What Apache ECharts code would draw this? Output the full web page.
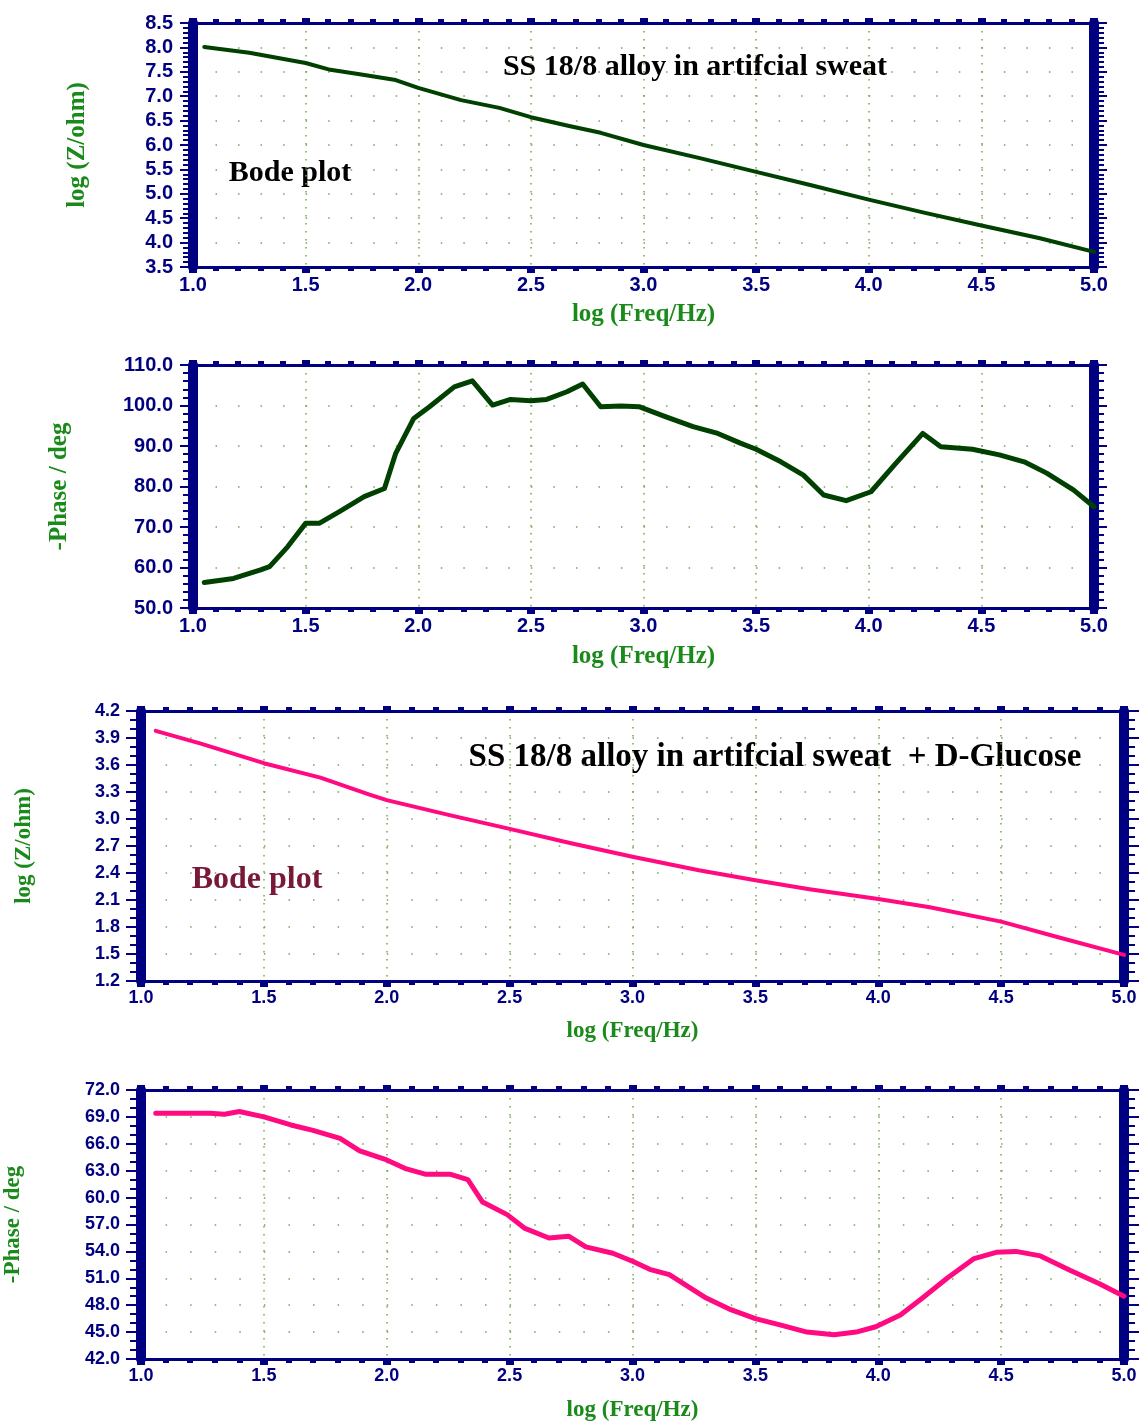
<!DOCTYPE html>
<html><head><meta charset="utf-8">
<script src="https://cdn.jsdelivr.net/npm/echarts@6/dist/echarts.min.js"></script>
<style>html,body{margin:0;padding:0;background:#fff}#c{width:1140px;height:1423px}</style>
</head><body><div id="c"></div>
<script>
// ---- data ----
const freqTicks = [1.0, 1.5, 2.0, 2.5, 3.0, 3.5, 4.0, 4.5, 5.0];

const zFreq1 = [1.05,1.25,1.5,1.61,1.74,1.9,2.0,2.19,2.36,2.5,2.67,2.81,3.0,3.25,3.5,3.74,4.0,4.25,4.49,4.76,5.0];
const zVal1  = [8.01,7.89,7.68,7.54,7.45,7.33,7.17,6.92,6.76,6.57,6.39,6.25,6.0,5.73,5.45,5.18,4.88,4.61,4.36,4.09,3.81];

const phFreq1 = [1.05,1.18,1.3,1.34,1.42,1.5,1.56,1.65,1.76,1.85,1.9,1.98,2.05,2.16,2.24,2.33,2.41,2.5,2.57,2.66,2.73,2.81,2.9,2.98,3.1,3.22,3.33,3.43,3.5,3.61,3.71,3.8,3.9,4.01,4.12,4.24,4.32,4.46,4.58,4.69,4.79,4.91,5.0];
const phVal1  = [56.3,57.3,59.4,60.2,65.1,70.9,70.9,73.8,77.5,79.5,88.2,96.8,99.7,104.6,106.1,100.1,101.5,101.2,101.5,103.4,105.3,99.7,99.9,99.7,97.2,94.8,93.1,90.7,89.2,86.1,82.8,77.9,76.5,78.7,85.7,93.1,89.8,89.2,87.8,86.1,83.3,79.1,75.0];

const zFreq2 = [1.06,1.24,1.5,1.73,1.93,2.0,2.26,2.5,2.75,3.0,3.27,3.5,3.72,4.0,4.21,4.5,4.74,5.0];
const zVal2  = [3.98,3.84,3.62,3.46,3.27,3.21,3.04,2.89,2.73,2.58,2.43,2.32,2.22,2.11,2.02,1.86,1.68,1.49];

const phFreq2 = [1.06,1.28,1.34,1.4,1.5,1.61,1.7,1.81,1.89,2.0,2.08,2.16,2.26,2.33,2.39,2.49,2.56,2.66,2.74,2.81,2.92,3.0,3.07,3.15,3.3,3.4,3.5,3.6,3.71,3.82,3.91,3.99,4.09,4.18,4.28,4.39,4.48,4.56,4.66,4.78,4.9,5.0];
const phVal2  = [69.4,69.4,69.3,69.6,69.0,68.1,67.5,66.6,65.2,64.2,63.2,62.6,62.6,62.0,59.5,58.1,56.6,55.5,55.7,54.5,53.8,52.9,52.0,51.4,48.8,47.5,46.5,45.8,45.0,44.7,45.0,45.6,46.9,48.8,51.0,53.2,53.9,54.0,53.5,51.9,50.4,49.0];

const xName = 'log (Freq/Hz)';
const yNames = ['log (Z/ohm)', '-Phase / deg', 'log (Z/ohm)', '-Phase / deg'];
const title1 = 'SS 18/8 alloy in artifcial sweat';
const title2 = 'SS 18/8 alloy in artifcial sweat  + D-Glucose';
const bodeLabel = 'Bode plot';

// ---- styling ----
const NAVY = '#000080';
const DOT = '#74a64a';
const NAMEG = '#1a8a1a';
const SANS = '"Liberation Sans", Arial, sans-serif';
const SERIF = '"Liberation Serif", "Times New Roman", serif';

const panels = [
  {grid:{left:193,top:23,width:901,height:244}, ymin:3.5, ymax:8.5, yint:0.5, yMinor:5,
   xs:zFreq1, ys:zVal1, color:'#004000', lw:4, tickFont:20, hGap:22.525,
   yGap:103, xGap:35, nameFont:25, barW:10, yTickLen:13, yMinorLen:10, yLabMargin:20},
  {grid:{left:193,top:365,width:901,height:243}, ymin:50, ymax:110, yint:10, yMinor:5,
   xs:phFreq1, ys:phVal1, color:'#004000', lw:5, tickFont:20, hGap:22.525,
   yGap:121, xGap:36, nameFont:25, barW:10, yTickLen:13, yMinorLen:10, yLabMargin:20},
  {grid:{left:141,top:711,width:983,height:270}, ymin:1.2, ymax:4.2, yint:0.3, yMinor:3,
   xs:zFreq2, ys:zVal2, color:'#ff0a80', lw:4, tickFont:18, hGap:24.575,
   yGap:105, xGap:39, nameFont:23, barW:10, yTickLen:15, yMinorLen:11, yLabMargin:21},
  {grid:{left:141,top:1090,width:983,height:269}, ymin:42, ymax:72, yint:3, yMinor:3,
   xs:phFreq2, ys:phVal2, color:'#ff0a80', lw:5, tickFont:18, hGap:24.575,
   yGap:116, xGap:40, nameFont:23, barW:10, yTickLen:15, yMinorLen:11, yLabMargin:21}
];

const grids = [], xAxes = [], yAxes = [], series = [];
panels.forEach((p, i) => {
  grids.push(Object.assign({containLabel:false, outerBoundsMode:'none'}, p.grid));
  const lab = {color:NAVY, fontWeight:'bold', fontFamily:SANS, fontSize:p.tickFont};
  // bottom x axis
  xAxes.push({
    type:'value', gridIndex:i, position:'bottom', min:freqTicks[0], max:freqTicks[freqTicks.length-1], interval:0.5,
    axisLine:{show:true, onZero:false, lineStyle:{color:NAVY, width:3}},
    axisTick:{show:true, inside:false, length:6, lineStyle:{color:NAVY, width:8}},
    minorTick:{show:true, splitNumber:5, length:4, lineStyle:{color:NAVY, width:6}},
    axisLabel:Object.assign({margin:8, showMinLabel:true, showMaxLabel:true, formatter:v=>v.toFixed(1)}, lab),
    splitLine:{show:true, lineStyle:{color:DOT, width:1.5, type:[1.5,6.5]}},
    name:xName, nameLocation:'middle', nameGap:p.xGap,
    nameTextStyle:{color:NAMEG, fontWeight:'bold', fontFamily:SERIF, fontSize:p.nameFont}
  });
  // top x axis (frame)
  xAxes.push({
    type:'value', gridIndex:i, position:'top', min:1, max:5, interval:0.5,
    axisLine:{show:true, onZero:false, lineStyle:{color:NAVY, width:3}},
    axisTick:{show:true, inside:false, length:5, lineStyle:{color:NAVY, width:8}},
    minorTick:{show:true, splitNumber:5, length:4, lineStyle:{color:NAVY, width:6}},
    axisLabel:{show:false}, splitLine:{show:false}
  });
  // left y axis
  yAxes.push({
    type:'value', gridIndex:i, position:'left', min:p.ymin, max:p.ymax, interval:p.yint,
    axisLine:{show:true, onZero:false, lineStyle:{color:NAVY, width:p.barW}},
    axisTick:{show:true, inside:false, length:p.yTickLen, lineStyle:{color:NAVY, width:2}},
    minorTick:{show:true, splitNumber:p.yMinor, length:p.yMinorLen, lineStyle:{color:NAVY, width:2}},
    axisLabel:Object.assign({margin:p.yLabMargin, showMinLabel:true, showMaxLabel:true, formatter:v=>v.toFixed(1)}, lab),
    splitLine:{show:true, lineStyle:{color:DOT, width:1.5, type:[1.5, p.hGap-1.5]}},
    name:yNames[i], nameLocation:'middle', nameGap:p.yGap, nameRotate:90,
    nameTextStyle:{color:NAMEG, fontWeight:'bold', fontFamily:SERIF, fontSize:p.nameFont}
  });
  // right y axis (frame)
  yAxes.push({
    type:'value', gridIndex:i, position:'right', min:p.ymin, max:p.ymax, interval:p.yint,
    axisLine:{show:true, onZero:false, lineStyle:{color:NAVY, width:p.barW}},
    axisTick:{show:true, inside:false, length:p.yTickLen, lineStyle:{color:NAVY, width:2}},
    minorTick:{show:true, splitNumber:p.yMinor, length:p.yMinorLen, lineStyle:{color:NAVY, width:2}},
    axisLabel:{show:false}, splitLine:{show:false}
  });
  series.push({
    type:'line', xAxisIndex:i*2, yAxisIndex:i*2, showSymbol:false, silent:true,
    data:p.xs.map((x, k) => [x, p.ys[k]]),
    lineStyle:{color:p.color, width:p.lw, cap:'round', join:'round'},
    z:1
  });
});

const chart = echarts.init(document.getElementById('c'), null, {renderer:'canvas'});
chart.setOption({
  backgroundColor:'#ffffff',
  animation:false,
  grid:grids, xAxis:xAxes, yAxis:yAxes, series:series,
  graphic:[
    {type:'text', x:695, y:67, style:{text:title1, textAlign:'center', textVerticalAlign:'middle', font:'bold 30px "Liberation Serif"', fill:'#000'}},
    {type:'text', x:290, y:173, style:{text:bodeLabel, textAlign:'center', textVerticalAlign:'middle', font:'bold 30px "Liberation Serif"', fill:'#000'}},
    {type:'text', x:775, y:757, style:{text:title2, textAlign:'center', textVerticalAlign:'middle', font:'bold 33px "Liberation Serif"', fill:'#000'}},
    {type:'text', x:257, y:880, style:{text:bodeLabel, textAlign:'center', textVerticalAlign:'middle', font:'bold 32px "Liberation Serif"', fill:'#7a1838'}}
  ]
});
</script>
</body></html>
